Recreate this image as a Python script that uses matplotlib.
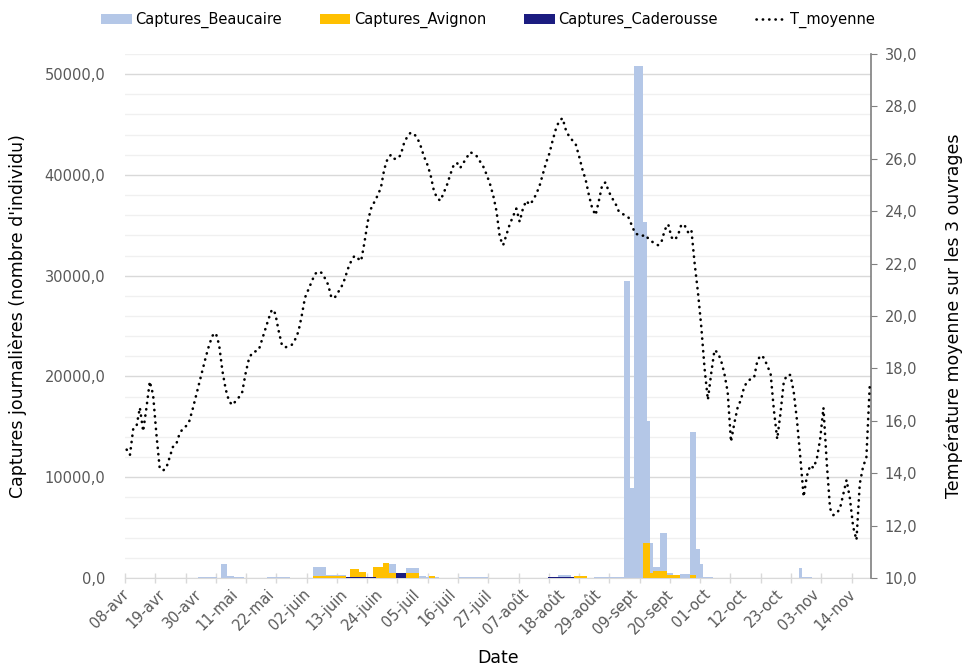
import numpy as np
import matplotlib
matplotlib.use("Agg")
import matplotlib.pyplot as plt
from matplotlib.ticker import FixedLocator, MultipleLocator, FuncFormatter
from matplotlib.patches import Patch
from matplotlib.lines import Line2D

# Daily series starting on 08 April (index 0) through 225 days later
n_days = 226

date_labels = ["08-avr", "19-avr", "30-avr", "11-mai", "22-mai", "02-juin",
               "13-juin", "24-juin", "05-juil", "16-juil", "27-juil", "07-août",
               "18-août", "29-août", "09-sept", "20-sept", "01-oct", "12-oct",
               "23-oct", "03-nov", "14-nov"]
label_step = 11  # days between date labels

# Mean temperature over the three sites (°C), one value per day
t_moyenne = [
    14.9, 14.7, 15.7, 15.8, 16.5, 15.6, 16.5, 17.5, 17.0, 15.5,
    14.2, 14.1, 14.2, 14.6, 15.0, 15.1, 15.5, 15.7, 15.8, 16.0,
    16.45, 16.95, 17.45, 17.95, 18.45, 18.9, 19.25, 19.35, 18.9, 17.9,
    17.2, 16.75, 16.6, 16.75, 16.9, 17.1, 17.8, 18.35, 18.6, 18.65,
    18.7, 19.1, 19.5, 19.9, 20.25, 20.1, 19.45, 18.9, 18.8, 18.85,
    18.9, 19.1, 19.4, 20.0, 20.7, 21.0, 21.3, 21.6, 21.7, 21.65,
    21.45, 21.2, 20.7, 20.7, 20.9, 21.1, 21.4, 21.8, 22.1, 22.3,
    22.2, 22.1, 22.8, 23.6, 24.1, 24.35, 24.6, 24.9, 25.6, 26.0,
    26.15, 26.0, 26.0, 26.15, 26.6, 26.85, 27.0, 26.95, 26.8, 26.5,
    26.1, 25.8, 25.4, 24.8, 24.5, 24.4, 24.7, 25.0, 25.4, 25.75,
    25.85, 25.65, 25.85, 26.05, 26.25, 26.2, 26.1, 25.9, 25.7, 25.4,
    25.05, 24.6, 24.0, 23.0, 22.7, 23.1, 23.5, 23.8, 24.1, 23.6,
    24.1, 24.4, 24.25, 24.4, 24.65, 24.95, 25.4, 25.85, 26.2, 26.7,
    27.15, 27.45, 27.55, 27.1, 26.85, 26.7, 26.55, 26.1, 25.6, 25.2,
    24.6, 24.1, 23.85, 24.4, 25.0, 25.1, 24.75, 24.5, 24.3, 24.0,
    23.9, 23.85, 23.75, 23.45, 23.15, 23.1, 23.05, 23.1, 22.95, 22.85,
    22.75, 22.7, 22.85, 23.3, 23.5, 23.0, 22.9, 23.1, 23.5, 23.45,
    23.2, 23.3, 22.0, 20.9, 19.6, 18.0, 16.8, 17.8, 18.7, 18.6,
    18.3, 17.8, 17.1, 15.2, 15.9, 16.5, 16.8, 17.3, 17.5, 17.6,
    17.65, 18.3, 18.5, 18.4, 18.1, 17.8, 16.4, 15.3, 16.3, 17.5,
    17.75, 17.75, 17.1, 16.0, 14.6, 13.1, 13.9, 14.3, 14.2, 14.55,
    15.3, 16.5, 14.4, 12.65, 12.4, 12.47, 12.65, 13.2, 13.74, 13.05,
    11.95, 11.45, 13.6, 14.25, 14.6, 17.3,
]

# Daily captures, given as runs: (first day index, number of days, captures per day)
beaucaire_runs = [
    (22, 6, 80), (29, 2, 1360), (31, 2, 170), (33, 3, 60), (43, 7, 80),
    (57, 4, 1100), (61, 6, 300), (80, 2, 1360), (85, 4, 1020), (89, 2, 200),
    (91, 4, 50), (101, 9, 70), (131, 4, 300), (142, 9, 100),
    (151, 2, 29500), (153, 1, 8900), (154, 3, 50800), (157, 1, 35300),
    (158, 1, 15600), (159, 1, 3500), (160, 2, 1120), (162, 2, 4430),
    (164, 2, 530), (166, 2, 200), (168, 3, 430), (171, 2, 14450),
    (173, 1, 2880), (174, 1, 1360), (175, 3, 100), (204, 1, 1000),
    (205, 3, 50),
]
avignon_runs = [
    (57, 10, 150), (68, 3, 860), (71, 2, 600), (75, 3, 1120), (78, 2, 1460),
    (80, 2, 530), (85, 4, 470), (92, 2, 220), (136, 4, 150),
    (157, 2, 3440), (159, 1, 470), (160, 4, 700), (164, 4, 300),
    (171, 2, 280),
]
caderousse_runs = [
    (67, 9, 100), (82, 3, 460), (128, 8, 100),
]


def daily(runs):
    values = np.zeros(n_days)
    for start, length, value in runs:
        values[start:start + length] = value
    return values


days = np.arange(n_days)
beaucaire = daily(beaucaire_runs)
avignon = daily(avignon_runs)
caderousse = daily(caderousse_runs)

c_beau = "#b4c7e7"
c_avi = "#ffc000"
c_cad = "#1b1c80"
tick_grey = "#595959"
dot_style = (0, (0.1, 2.3))

plt.rcParams["font.family"] = ["DejaVu Sans"]

fig = plt.figure(figsize=(9.67, 6.66), dpi=100)
ax = fig.add_axes([125 / 967, 88 / 666, 746 / 967, 524 / 666])
ax2 = ax.twinx()

# Bars (full-day width, drawn one over the other)
ax.bar(days, beaucaire, width=1.0, color=c_beau, linewidth=0, zorder=2)
ax.bar(days, avignon, width=1.0, color=c_avi, linewidth=0, zorder=3)
ax.bar(days, caderousse, width=1.0, color=c_cad, linewidth=0, zorder=4)

# Temperature on the secondary axis, round-dotted
ax2.plot(days, t_moyenne, color="black", linestyle=dot_style,
         linewidth=1.9, dash_capstyle="round", zorder=5)

ax.set_xlim(-0.5, 225.4)
ax.set_ylim(0, 52000)
ax2.set_ylim(10, 30)

# Primary y axis: labels every 10000, light grid every 2000
ax.yaxis.set_major_locator(MultipleLocator(10000))
ax.yaxis.set_minor_locator(MultipleLocator(2000))
fmt_fr = FuncFormatter(lambda v, p: f"{v:.1f}".replace(".", ","))
ax.yaxis.set_major_formatter(fmt_fr)
ax.grid(axis="y", which="major", color="#d9d9d9", linewidth=1.0, zorder=0)
ax.grid(axis="y", which="minor", color="#f0f0f0", linewidth=1.0, zorder=0)
ax.set_axisbelow(True)
ax.tick_params(axis="y", which="both", length=0, labelsize=10.5,
               labelcolor=tick_grey, pad=14)

# Secondary y axis
ax2.yaxis.set_major_locator(MultipleLocator(2))
ax2.yaxis.set_major_formatter(fmt_fr)
ax2.tick_params(axis="y", which="major", length=4, color="#808080",
                labelsize=10.5, labelcolor=tick_grey, pad=6)

# X axis: date labels every 11 days, tick marks on their own spacing
label_pos = np.arange(len(date_labels)) * label_step
ax.xaxis.set_major_locator(FixedLocator(label_pos))
ax.set_xticklabels(date_labels, rotation=45, ha="right", va="center",
                   rotation_mode="anchor", fontsize=10.5, color=tick_grey)
ax.tick_params(axis="x", which="major", length=0, pad=10)
ax.xaxis.set_minor_locator(FixedLocator(np.linspace(-0.5, 219.5, 25)))
ax.tick_params(axis="x", which="minor", length=7, direction="inout",
               color="#d9d9d9", width=1.0)

for s in ["top", "left", "right"]:
    ax.spines[s].set_visible(False)
ax.spines["bottom"].set_color("#d9d9d9")
for s in ["top", "left", "bottom"]:
    ax2.spines[s].set_visible(False)
ax2.spines["right"].set_color("#7f7f7f")
ax2.spines["right"].set_linewidth(1.2)

ax.set_ylabel("Captures journalières (nombre d'individu)", fontsize=12.5,
              color="black")
ax.yaxis.set_label_coords(-0.131, 0.5)
ax2.set_ylabel("Température moyenne sur les 3 ouvrages", fontsize=12.5,
               color="black", rotation=90)
ax2.yaxis.set_label_coords(1.099, 0.5)
ax.set_xlabel("Date", fontsize=12.5, color="black")
ax.xaxis.set_label_coords(0.50, -0.135)

handles = [
    Patch(facecolor=c_beau, edgecolor="none"),
    Patch(facecolor=c_avi, edgecolor="none"),
    Patch(facecolor=c_cad, edgecolor="none"),
    Line2D([0], [0], color="black", linestyle=dot_style, linewidth=1.9,
           dash_capstyle="round"),
]
labels = ["Captures_Beaucaire", "Captures_Avignon", "Captures_Caderousse",
          "T_moyenne"]
fig.legend(handles, labels, loc="center", bbox_to_anchor=(488 / 967, 1 - 20 / 666),
           ncol=4, frameon=False, fontsize=10.5, handlelength=2.1,
           handleheight=0.7, handletextpad=0.25, columnspacing=2.6,
           labelcolor="black")

fig.savefig("out.png", dpi=100)
